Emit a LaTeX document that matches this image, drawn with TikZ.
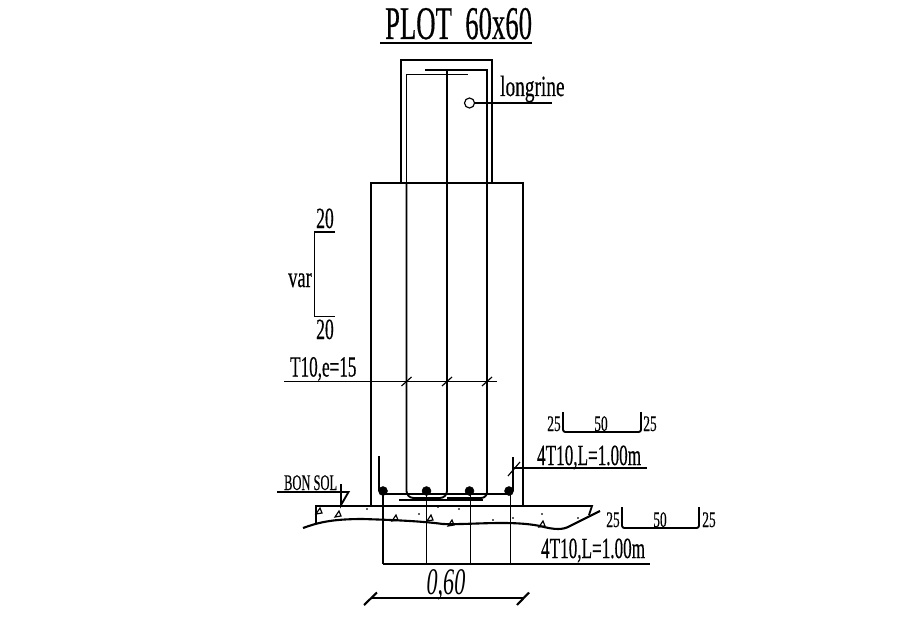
\documentclass[tikz,border=0pt]{standalone}
\usepackage{fontspec}
\setmainfont{Liberation Serif}
\newfontfamily\plotfont{Liberation Serif}[RawFeature={embolden=0.5}]
\tikzset{
  trait/.style={line width=1.6pt},
  fin/.style={line width=1pt},
  cond/.style={transform shape,xscale=#1,inner sep=0pt,anchor=base west},
  cond/.default=0.58,
  mid/.style={cond=0.6,anchor=base,font=\plotfont\fontsize{19}{19}\selectfont},
  big/.style={cond=#1,anchor=base,font=\plotfont\fontsize{25}{25}\selectfont},
  barlabel/.style={cond=0.585,font=\plotfont\fontsize{25}{25}\selectfont}
}
\begin{document}
\begin{tikzpicture}[x=0.03cm,y=-0.03cm]
    \useasboundingbox (0,0) rectangle (899,622);
    % titre
    \node [cond=0.57,font=\plotfont\fontsize{40}{40}\selectfont] (titre) at (385,39) {PLOT\ \ 60x60};
    \draw [trait] (380,43)--(532,43);
    % longrine
    \draw [trait] (401,183)--(401,60)--(492,60)--(492,183);
    \draw [trait] (406.5,183)--(406.5,74.5)--(468,74.5);
    \draw [trait] (425,70)--(487,70)--(487,183);
    \draw [trait] (447,70)--(447,183);
    \draw [fin] (469.5,103) circle [radius=5];
    \draw [trait] (474.5,103)--(552,103);
    \node [cond=0.66,font=\plotfont\fontsize{25}{25}\selectfont] (longrine) at (500,96) {longrine};
    % plot
    \draw [trait] (371,506)--(371,183)--(523,183)--(523,506);
    \draw [trait,rounded corners=6pt] (406.5,183)--(406.5,498)--(447,498)--(447,183);
    \draw [trait,rounded corners=5pt] (447,498)--(487,498)--(487,183);
    \draw [fin] (399,500)--(483,500);
    \draw [trait] (383,494)--(510,494);
    % aciers
    \draw [trait] (379,456)--(379,491);
    \draw [trait] (513,457)--(513,491);
    \foreach \xbar in {383,426.5,469.5,509}
      \filldraw[black] (\xbar,491) circle [radius=4.5];
    \foreach \xbar in {383,426.5,470.5,510.5}
      \draw [trait] (\xbar,491)--(\xbar,564);
    \draw [trait] (383,564)--(650,564);
    \node [barlabel] (barhaut) at (537,465) {4T10,L=1.00m};
    \draw [trait] (513,468)--(647,468);
    \draw [fin] (508,476)--(520,462);
    \node [barlabel] (barbas) at (541,558) {4T10,L=1.00m};
    % formes
    \draw [trait,rounded corners=2pt] (563,412)--(563,432)--(641,432)--(641,412);
    \node [mid] (a1) at (554,431) {25};
    \node [mid] (a2) at (601,431) {50};
    \node [mid] (a3) at (650,431) {25};
    \draw [trait,rounded corners=2pt] (622,507)--(622,528)--(699,528)--(699,507);
    \node [mid] (b1) at (613,527) {25};
    \node [mid] (b2) at (660,527) {50};
    \node [mid] (b3) at (709,527) {25};
    % cadres
    \draw [trait] (335,232)--(314.5,232)--(314.5,316.5)--(335,316.5);
    \node [big=0.6] (h20) at (325,228) {20};
    \node [big=0.6] (b20) at (325,339) {20};
    \node [big=0.63] (var) at (300,287) {var};
    \node [barlabel] (t10) at (290,376.5) {T10,e=15};
    \draw [trait] (284,381.5)--(497,381.5);
    \foreach \xcad in {406.5,447,487}
      \draw [fin] (\xcad-5,386)--(\xcad+5,377);
    % beton de proprete
    \draw [trait] (316,523)--(316,506)--(592,506)--(589,515);
    \draw [line width=1.8pt] (303,528) .. controls (317,523) and (330,519) .. (363,519)
      .. controls (393,520) and (420,521) .. (443,524)
      .. controls (470,525) and (510,520) .. (540,526)
      .. controls (555,530) and (563,530) .. (570,526)
      -- (600,511);
    \foreach \xa/\ya in {319/511,338/514,395/518,430/518,451/523,542/524}
      \draw [fin] (\xa-3,\ya+3)--(\xa+3,\ya+2)--(\xa+1,\ya-3)--cycle;
    \foreach \xa/\ya in {367/509,419/514,438/507,459/509,493/520,513/518,542/514,578/518}
      \filldraw[black] (\xa,\ya) circle [radius=0.6];
    % bon sol
    \node [cond=0.56,font=\plotfont\fontsize{19}{19}\selectfont] (bonsol) at (284,490) {BON SOL};
    \draw [trait] (277,492)--(348.5,492)--(341,505)--(341,484);
    % cote
    \node [cond=0.59,anchor=base,font=\itshape\fontsize{32}{32}\selectfont] (cote) at (446,594) {0,60};
    \draw [trait] (372,598)--(523,598);
    \draw [line width=1.8pt] (364,605)--(377,592.5);
    \draw [line width=1.8pt] (517,605)--(529,592.5);
  \end{tikzpicture}
\end{document}
